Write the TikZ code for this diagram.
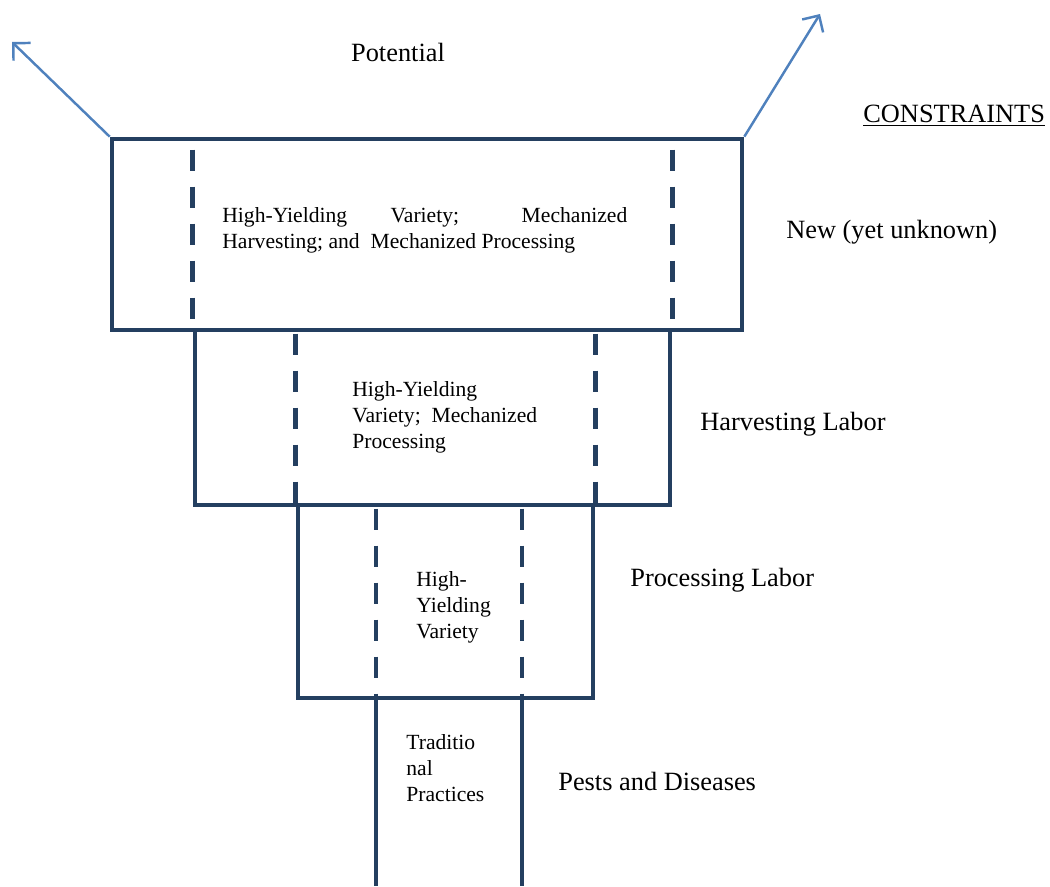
\documentclass[tikz,border=0pt]{standalone}
\usepackage{fontspec}
\setmainfont{Liberation Serif}
\usetikzlibrary{arrows.meta, positioning}
\definecolor{tierblue}{RGB}{36,63,96}
\definecolor{arrowblue}{RGB}{79,129,189}
\tikzset{
  % Solid tier box
  tier/.style={rectangle, draw=tierblue, line width=2.7pt, inner sep=0pt},
  % Dashed inner boundary of a tier
  tierdash/.style={draw=tierblue, line width=2.6pt, dash pattern=on 0.42cm off 0.32cm},
  stem/.style={draw=tierblue, line width=2.7pt},
  potarrow/.style={-{Straight Barb[length=7pt, width=14pt]}, line width=1.4pt, color=arrowblue},
  % Texts
  innertext/.style={font=\fontsize{12.3}{14.8}\selectfont, align=left, inner sep=0pt, anchor=north west},
  constraint/.style={font=\fontsize{15}{18}\selectfont, inner sep=0pt, anchor=west}
}

\begin{document}
\begin{tikzpicture}[x=0.02cm, y=-0.02cm]
  \useasboundingbox (0,0) rectangle (1050,886);

  % Tiers
  \node[tier, minimum width=12.6cm, minimum height=3.82cm] (newtier) at (427,234.5) {};
  \node[tier, minimum width=9.5cm, minimum height=3.5cm] (harvtier) at (432.5,417.5) {};
  \node[tier, minimum width=5.9cm, minimum height=3.86cm] (proctier) at (445.5,601.5) {};

  % Stem
  \coordinate (stemleft) at (376,886);
  \coordinate (stemright) at (522,886);
  \draw[stem] (proctier.south -| stemleft) -- (stemleft);
  \draw[stem] (proctier.south -| stemright) -- (stemright);

  % Dashed boundaries
  \draw[tierdash] ([yshift=-0.26cm]newtier.north -| harvtier.west) -- (newtier.south -| harvtier.west);
  \draw[tierdash] ([yshift=-0.26cm]newtier.north -| harvtier.east) -- (newtier.south -| harvtier.east);
  \draw[tierdash] ([yshift=-0.12cm]harvtier.north -| proctier.west) -- (harvtier.south -| proctier.west);
  \draw[tierdash] ([yshift=-0.12cm]harvtier.north -| proctier.east) -- (harvtier.south -| proctier.east);
  \draw[tierdash] ([yshift=-0.12cm]proctier.north -| stemleft) -- (proctier.south -| stemleft);
  \draw[tierdash, line width=1.9pt] ([yshift=-0.12cm]proctier.north -| stemright) -- (proctier.south -| stemright);

  % Potential arrows
  \coordinate (potleft) at (12,42);
  \coordinate (potright) at (820,14);
  \draw[potarrow] (newtier.north west) -- (potleft);
  \draw[potarrow] (newtier.north east) -- (potright);

  % Inner texts
  \node[innertext, text width=8.1cm, align=justify] (newtext) at (222,207)
    {High-Yielding Variety; Mechanized\linebreak Harvesting; and\ \ Mechanized Processing};
  \node[innertext] (harvtext) at (352,381) {High-Yielding\\Variety;\ \ Mechanized\\Processing};
  \node[innertext] (proctext) at (416,571) {High-\\Yielding\\Variety};
  \node[innertext] (tradtext) at (406,734) {Traditio\\nal\\Practices};

  % Labels
  \node[font=\fontsize{15}{18}\selectfont, inner sep=0pt] (potential) at (398,52) {Potential};
  \node[constraint] (constraints) at (863,116) {\underline{CONSTRAINTS}};
  \node[constraint] (newlabel) at (786,232) {New (yet unknown)};
  \node[constraint] (harvlabel) at (700,424) {Harvesting Labor};
  \node[constraint] (proclabel) at (630,580) {Processing Labor};
  \node[constraint] (pestlabel) at (558,781) {Pests and Diseases};
\end{tikzpicture}
\end{document}
